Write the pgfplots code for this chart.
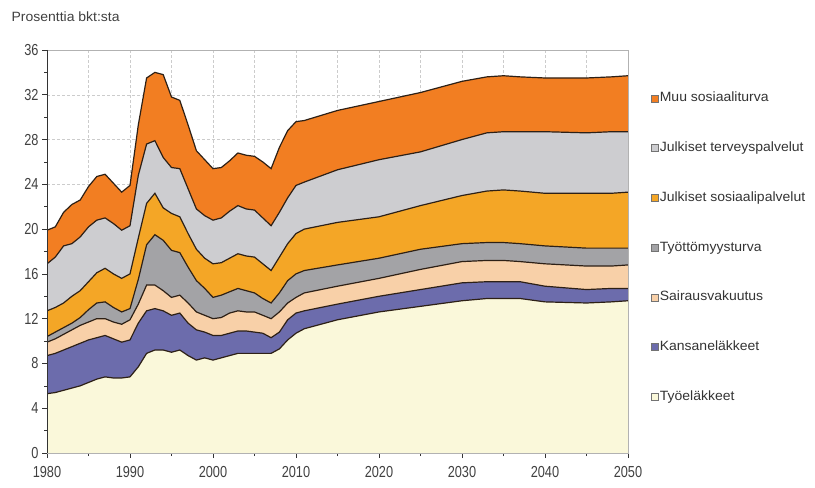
\documentclass[border=0pt]{standalone}
\usepackage{pgfplots}
\pgfplotsset{compat=1.18}
\usepackage{pgfplotstable}
\usepgfplotslibrary{fillbetween}
\usepackage{fontspec}
\setmainfont{Liberation Sans}
\newfontfamily\kapea[FakeStretch=0.8]{Liberation Sans}
\newfontfamily\levea[FakeStretch=1.04]{Liberation Sans}

\definecolor{tyoel}{RGB}{250,248,218}
\definecolor{kansan}{RGB}{108,108,172}
\definecolor{sairaus}{RGB}{248,208,168}
\definecolor{tyott}{RGB}{163,163,166}
\definecolor{sospalv}{RGB}{244,166,38}
\definecolor{tervpalv}{RGB}{205,205,208}
\definecolor{muu}{RGB}{242,126,34}
\definecolor{rajaviiva}{RGB}{45,32,22}

% cumulative tops of the stacked areas, % of GDP
\pgfplotstableread{
year t1 t2 t3 t4 t5 t6 t7
1980 5.3 8.7 9.9 10.4 12.7 16.9 19.9
1981 5.4 8.9 10.2 10.8 13.0 17.5 20.2
1982 5.6 9.2 10.6 11.2 13.4 18.5 21.5
1983 5.8 9.5 11.0 11.6 14.0 18.7 22.2
1984 6.0 9.8 11.4 12.1 14.5 19.3 22.6
1985 6.3 10.1 11.7 12.8 15.3 20.2 23.8
1986 6.6 10.3 12.0 13.4 16.1 20.8 24.7
1987 6.8 10.5 12.0 13.5 16.5 21.0 24.9
1988 6.7 10.2 11.7 13.0 16.0 20.5 24.1
1989 6.7 9.9 11.5 12.6 15.6 19.9 23.3
1990 6.8 10.1 11.9 12.9 16.0 20.3 23.9
1991 7.7 11.6 13.3 15.5 19.2 24.8 29.3
1992 8.9 12.7 15.0 18.6 22.3 27.6 33.5
1993 9.2 12.9 15.0 19.5 23.2 27.9 34.0
1994 9.2 12.7 14.5 19.0 21.9 26.4 33.8
1995 9.0 12.3 13.9 18.1 21.4 25.5 31.8
1996 9.2 12.5 14.1 17.9 21.1 25.4 31.5
1997 8.7 11.6 13.4 16.6 19.6 23.6 29.3
1998 8.3 11.0 12.6 15.4 18.2 21.8 27.0
1999 8.5 10.8 12.3 14.7 17.4 21.2 26.2
2000 8.3 10.5 12.0 13.9 16.9 20.8 25.4
2001 8.5 10.5 12.1 14.1 17.0 21.0 25.5
2002 8.7 10.7 12.5 14.4 17.4 21.6 26.1
2003 8.9 10.9 12.7 14.7 17.8 22.1 26.8
2004 8.9 10.9 12.6 14.5 17.6 21.8 26.6
2005 8.9 10.8 12.6 14.3 17.5 21.7 26.5
2006 8.9 10.7 12.3 13.8 16.9 21.0 26.0
2007 8.9 10.3 12.0 13.4 16.3 20.3 25.4
2008 9.3 10.8 12.6 14.3 17.5 21.5 27.3
2009 10.1 11.9 13.4 15.4 18.7 22.8 28.8
2010 10.7 12.5 13.9 16.0 19.6 23.9 29.6
2011 11.1 12.7 14.3 16.3 20.0 24.2 29.7
2015 11.9 13.3 14.9 16.8 20.6 25.3 30.6
2020 12.6 14.0 15.6 17.4 21.1 26.2 31.4
2025 13.1 14.6 16.4 18.2 22.1 26.9 32.2
2030 13.6 15.2 17.1 18.7 23.0 28.0 33.2
2033 13.8 15.3 17.2 18.8 23.4 28.6 33.6
2035 13.8 15.3 17.2 18.8 23.5 28.7 33.7
2037 13.8 15.3 17.1 18.7 23.4 28.7 33.6
2040 13.5 14.9 16.9 18.5 23.2 28.7 33.5
2045 13.4 14.6 16.7 18.3 23.2 28.6 33.5
2048 13.5 14.7 16.7 18.3 23.2 28.7 33.6
2050 13.6 14.7 16.8 18.3 23.3 28.7 33.7
}\sostab

\begin{document}
\begin{tikzpicture}[font=\levea\fontsize{13.5}{16}\selectfont]
\begin{axis}[
    set layers,
    at={(47bp,35bp)}, anchor=south west,
    width=581bp, height=403bp, scale only axis,
    xmin=1980, xmax=2050, ymin=0, ymax=36,
    xtick={1980,1990,...,2050},
    minor xtick={1985,1995,...,2045},
    ytick={0,4,...,36},
    minor ytick={2,6,...,34},
    tick pos=left,
    tick align=outside,
    major tick length=5bp, minor tick length=3bp,
    tick style={black!80, line width=0.6bp},
    /pgf/number format/assume math mode=true,
    /pgf/number format/1000 sep={},
    tick label style={font=\kapea\fontsize{16}{18}\selectfont, text=black!75},
    xticklabel style={yshift=-5bp},
    xmajorgrids, xminorgrids, ymajorgrids,
    major grid style={dash pattern=on 3bp off 2bp, draw=gray!40, line width=0.5bp},
    minor grid style={dash pattern=on 3bp off 2bp, draw=gray!40, line width=0.5bp},
    axis line style={draw=gray!60, line width=0.6bp},
    ylabel={Prosenttia bkt:sta},
    ylabel style={rotate=-90, at={(axis description cs:-0.067,1.082)}, anchor=west, text=black!75},
    legend style={at={(axis description cs:1.034,0.905)}, anchor=north west,
        draw=none, fill=none, row sep=33.7bp,
        nodes={inner sep=1.5bp, text height=10bp, text depth=3bp, anchor=west, text=black!80}},
    legend cell align=left,
    reverse legend,
    ruutu/.style={legend image code/.code={\draw[##1, draw=black!55, line width=0.4bp] (0bp,-3.5bp) rectangle (7bp,3.5bp);}},
]
\addplot[name path=base, draw=none, forget plot] coordinates {(1980,0) (2050,0)};
\addplot[name path=t1, draw=rajaviiva, line width=1.2bp, no marks, forget plot] table[x=year, y=t1] {\sostab};
\addplot[name path=t2, draw=rajaviiva, line width=1.2bp, no marks, forget plot] table[x=year, y=t2] {\sostab};
\addplot[name path=t3, draw=rajaviiva, line width=1.2bp, no marks, forget plot] table[x=year, y=t3] {\sostab};
\addplot[name path=t4, draw=rajaviiva, line width=1.2bp, no marks, forget plot] table[x=year, y=t4] {\sostab};
\addplot[name path=t5, draw=rajaviiva, line width=1.2bp, no marks, forget plot] table[x=year, y=t5] {\sostab};
\addplot[name path=t6, draw=rajaviiva, line width=1.2bp, no marks, forget plot] table[x=year, y=t6] {\sostab};
\addplot[name path=t7, draw=rajaviiva, line width=1.2bp, no marks, forget plot] table[x=year, y=t7] {\sostab};

\addplot[fill=tyoel, ruutu] fill between[of=base and t1];
\addlegendentry{Työeläkkeet}
\addplot[fill=kansan, ruutu] fill between[of=t1 and t2];
\addlegendentry{Kansaneläkkeet}
\addplot[fill=sairaus, ruutu] fill between[of=t2 and t3];
\addlegendentry{Sairausvakuutus}
\addplot[fill=tyott, ruutu] fill between[of=t3 and t4];
\addlegendentry{Työttömyysturva}
\addplot[fill=sospalv, ruutu] fill between[of=t4 and t5];
\addlegendentry{Julkiset sosiaalipalvelut}
\addplot[fill=tervpalv, ruutu] fill between[of=t5 and t6];
\addlegendentry{Julkiset terveyspalvelut}
\addplot[fill=muu, ruutu] fill between[of=t6 and t7];
\addlegendentry{Muu sosiaaliturva}

\draw[gray!60, line width=0.6bp] (rel axis cs:1,0) -- (rel axis cs:1,1) -- (rel axis cs:0,1);
\draw[black!80, line width=0.8bp] (rel axis cs:0,1) -- (rel axis cs:0,0) -- (rel axis cs:1,0);
\end{axis}
\path (0,0) (815bp,488bp);
\end{tikzpicture}
\end{document}
